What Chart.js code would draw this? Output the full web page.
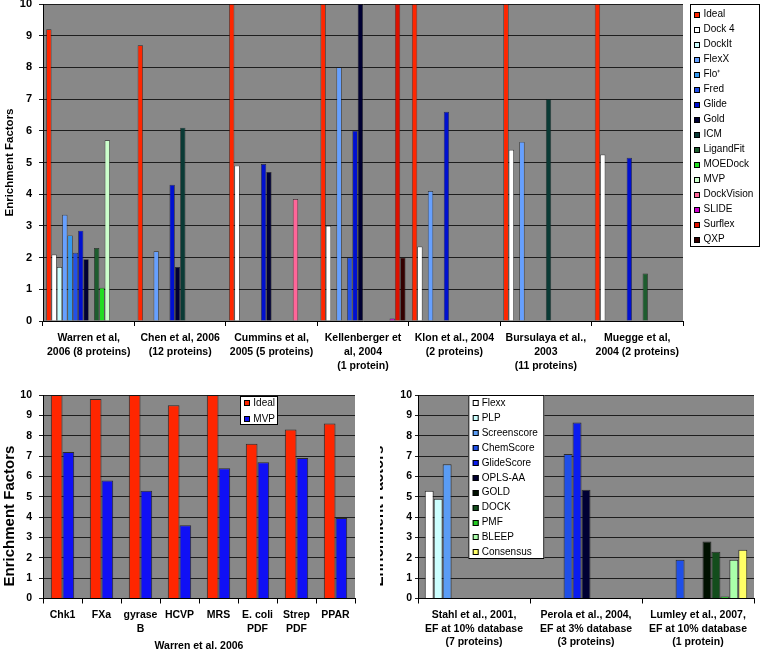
<!DOCTYPE html>
<html>
<head>
<meta charset="utf-8">
<script src="https://cdn.jsdelivr.net/npm/chart.js@4.4.0/dist/chart.umd.min.js"></script>
<style>
  body { margin: 0; background: #fff; width: 761px; height: 651px; position: relative; overflow: hidden; }
  canvas { position: absolute; }
</style>
</head>
<body>
<canvas id="overview" width="761" height="372" style="left:0;top:0"></canvas>
<canvas id="warren" width="370" height="279" style="left:0;top:372px"></canvas>
<canvas id="scoring" width="381" height="279" style="left:380px;top:372px"></canvas>
<script>
// ---- top chart: enrichment factors per study ----
const studies = [
  ['Warren et al,', '2006 (8 proteins)'],
  ['Chen et al, 2006', '(12 proteins)'],
  ['Cummins et al,', '2005 (5 proteins)'],
  ['Kellenberger et', 'al, 2004', '(1 protein)'],
  ['Klon et al., 2004', '(2 proteins)'],
  ['Bursulaya et al.,', '2003', '(11 proteins)'],
  ['Muegge et al,', '2004 (2 proteins)']
]
const programs = ['Ideal', 'Dock 4', 'DockIt', 'FlexX', 'Flo⁺', 'Fred', 'Glide', 'Gold', 'ICM',
  'LigandFit', 'MOEDock', 'MVP', 'DockVision', 'SLIDE', 'Surflex', 'QXP']
const efIdeal      = [9.2, 8.7, 10, 10, 10, 10, 10]
const efDock4      = [2.1, null, 4.9, 3.0, 2.35, 5.4, 5.25]
const efDockIt     = [1.7, null, null, null, null, null, null]
const efFlexX      = [3.35, 2.2, null, 8.0, 4.1, 5.65, null]
const efFlo        = [2.7, null, null, null, null, null, null]
const efFred       = [2.15, null, null, 2.0, null, null, null]
const efGlide      = [2.85, 4.3, 4.95, 6.0, 6.6, null, 5.15]
const efGold       = [1.95, 1.7, 4.7, 10, null, null, null]
const efICM        = [null, 6.1, null, null, null, 7.0, null]
const efLigandFit  = [2.3, null, null, null, null, null, 1.5]
const efMOEDock    = [1.05, null, null, null, null, null, null]
const efMVP        = [5.7, null, null, null, null, null, null]
const efDockVision = [null, null, 3.85, null, null, null, null]
const efSLIDE      = [null, null, null, 0.08, null, null, null]
const efSurflex    = [null, null, null, 10, null, null, null]
const efQXP        = [null, null, null, 2.0, null, null, null]

// ---- bottom left: Warren et al. 2006 per target ----
const targets = ['Chk1', 'FXa', ['gyrase', 'B'], 'HCVP', 'MRS', ['E. coli', 'PDF'], ['Strep', 'PDF'], 'PPAR']
const warrenIdeal = [10, 9.8, 10, 9.5, 10, 7.6, 8.3, 8.6]
const warrenMVP   = [7.2, 5.8, 5.3, 3.6, 6.4, 6.7, 6.9, 3.95]

// ---- bottom right: scoring functions ----
const benchmarks = [
  ['Stahl et al., 2001,', 'EF at 10% database', '(7 proteins)'],
  ['Perola et al., 2004,', 'EF at 3% database', '(3 proteins)'],
  ['Lumley et al., 2007,', 'EF at 10% database', '(1 protein)']
]
const scoreFns = ['Flexx', 'PLP', 'Screenscore', 'ChemScore', 'GlideScore', 'OPLS-AA', 'GOLD', 'DOCK', 'PMF', 'BLEEP', 'Consensus']
const sfFlexx       = [5.3, null, null]
const sfPLP         = [4.9, null, null]
const sfScreenscore = [6.6, null, null]
const sfChemScore   = [null, 7.1, 1.9]
const sfGlideScore  = [null, 8.65, null]
const sfOPLS        = [null, 5.35, null]
const sfGOLD        = [null, null, 2.8]
const sfDOCK        = [null, null, 2.3]
const sfPMF         = [null, null, 0.1]
const sfBLEEP       = [null, null, 1.9]
const sfConsensus   = [null, null, 2.4]

const FONT = '"Liberation Sans", Arial, sans-serif'
const PLOT_GREY = '#888888'

// plot area fill
const plotFill = {
  id: 'plotFill',
  beforeDraw(chart) {
    const { ctx, chartArea: a } = chart
    ctx.save()
    ctx.fillStyle = PLOT_GREY
    ctx.fillRect(a.left, a.top, a.right - a.left, a.bottom - a.top)
    ctx.restore()
  }
}

// boxed legend, Excel style
const boxLegend = {
  id: 'boxLegend',
  afterDraw(chart, args, o) {
    if (!o.w) return
    const ctx = chart.ctx
    ctx.save()
    ctx.fillStyle = '#fff'
    ctx.fillRect(o.x, o.y, o.w, o.h)
    ctx.strokeStyle = '#000'
    ctx.lineWidth = 1
    ctx.strokeRect(o.x + 0.5, o.y + 0.5, o.w - 1, o.h - 1)
    ctx.font = '10px ' + FONT
    ctx.textBaseline = 'middle'
    ctx.textAlign = 'left'
    chart.data.datasets.forEach((ds, i) => {
      const cy = o.y + o.first + i * o.step
      const top = Math.round(cy - 3)
      ctx.fillStyle = ds.backgroundColor
      ctx.fillRect(o.x + o.mx, top, 6, 6)
      ctx.strokeStyle = '#000'
      ctx.strokeRect(o.x + o.mx + 0.5, top + 0.5, 5, 5)
      ctx.fillStyle = '#000'
      ctx.fillText(ds.label, o.x + o.tx, cy)
    })
    ctx.restore()
  }
}

// rotated y title placed freely (bottom charts)
const sideTitle = {
  id: 'sideTitle',
  afterDraw(chart, args, o) {
    if (!o.text) return
    const ctx = chart.ctx
    ctx.save()
    ctx.translate(o.x, o.y)
    ctx.rotate(-Math.PI / 2)
    ctx.font = 'bold ' + o.size + 'px ' + FONT
    ctx.fillStyle = '#000'
    ctx.textAlign = 'center'
    ctx.textBaseline = 'middle'
    ctx.fillText(o.text, 0, 0)
    ctx.restore()
  }
}

function yAxis(width, size, tickLen, pad, title) {
  return {
    min: 0,
    max: 10,
    ticks: { stepSize: 1, color: '#000', padding: pad, font: { family: FONT, size, weight: 'bold' } },
    grid: { color: '#1e1e1e', lineWidth: 1, tickLength: tickLen },
    border: { color: '#000', width: 1 },
    title: title || { display: false },
    afterFit(s) { s.width = width; s.paddingTop = 0; s.paddingBottom = 0 }
  }
}

function xAxis(height, size, lineH, title) {
  return {
    ticks: {
      color: '#000', padding: 5, maxRotation: 0, minRotation: 0, autoSkip: false,
      font: { family: FONT, size, weight: 'bold', lineHeight: lineH }
    },
    grid: { drawOnChartArea: false, color: '#000', tickLength: 5 },
    border: { color: '#000', width: 1 },
    title: title || { display: false },
    afterFit(s) { s.height = height; s.paddingLeft = 0; s.paddingRight = 0 }
  }
}

function bars(names, series, colors, edge) {
  return names.map((label, i) => ({
    label,
    data: series[i],
    backgroundColor: colors[i],
    borderColor: 'rgba(20,20,20,0.8)',
    borderWidth: edge
  }))
}

Chart.register(plotFill, boxLegend, sideTitle)

// top chart
new Chart(document.getElementById('overview'), {
  type: 'bar',
  data: {
    labels: studies,
    datasets: bars(programs,
      [efIdeal, efDock4, efDockIt, efFlexX, efFlo, efFred, efGlide, efGold, efICM,
        efLigandFit, efMOEDock, efMVP, efDockVision, efSLIDE, efSurflex, efQXP],
      ['#FF2600', '#FFFFFF', '#CCFFFF', '#66A0FF', '#3399F0', '#2350E6', '#0010D0', '#000033', '#0A3A35',
        '#1D5C2E', '#22DD22', '#CCFFCC', '#FF6699', '#CC00CC', '#DD1100', '#330000'], 0.7)
  },
  options: {
    responsive: false,
    animation: false,
    categoryPercentage: 0.93,
    barPercentage: 1,
    layout: { padding: { left: 0, top: 4, right: 78, bottom: 0 } },
    plugins: {
      legend: { display: false },
      tooltip: { enabled: false },
      boxLegend: { x: 690, y: 4, w: 70, h: 243, first: 10.5, step: 15, mx: 4, tx: 13.5 }
    },
    scales: {
      x: xAxis(51, 10.5, '14px'),
      y: yAxis(43, 11, 4, 7, {
        display: true, text: 'Enrichment Factors', color: '#000',
        font: { family: FONT, size: 11.5, weight: 'bold', lineHeight: 1.2 },
        padding: { top: 3, bottom: 0 }
      })
    }
  }
})

// bottom left
new Chart(document.getElementById('warren'), {
  type: 'bar',
  data: {
    labels: targets,
    datasets: bars(['Ideal', 'MVP'], [warrenIdeal, warrenMVP], ['#FF2600', '#1010F5'], 1)
  },
  options: {
    responsive: false,
    animation: false,
    categoryPercentage: 0.6,
    barPercentage: 1,
    layout: { padding: { left: 0, top: 23, right: 15, bottom: 0 } },
    plugins: {
      legend: { display: false },
      tooltip: { enabled: false },
      boxLegend: { x: 240, y: 24, w: 38, h: 29, first: 7.3, step: 15.7, mx: 4, tx: 13.3 },
      sideTitle: { text: 'Enrichment Factors', x: 9.5, y: 144, size: 15 }
    },
    scales: {
      x: xAxis(52.5, 10.5, '13.5px', {
        display: true, text: 'Warren et al. 2006', color: '#000',
        font: { family: FONT, size: 10.5, weight: 'bold', lineHeight: '10px' },
        padding: { top: 0, bottom: 0 }
      }),
      y: yAxis(43, 10.5, 4, 7)
    }
  }
})

// bottom right
new Chart(document.getElementById('scoring'), {
  type: 'bar',
  data: {
    labels: benchmarks,
    datasets: bars(scoreFns,
      [sfFlexx, sfPLP, sfScreenscore, sfChemScore, sfGlideScore, sfOPLS, sfGOLD, sfDOCK, sfPMF, sfBLEEP, sfConsensus],
      ['#FFFFFF', '#CCFFFF', '#5A9CF5', '#1F4FE8', '#0A1CF0', '#000033', '#001100', '#134D1C', '#22CC22', '#AAFFAA', '#FFFF66'], 1)
  },
  options: {
    responsive: false,
    animation: false,
    categoryPercentage: 0.88,
    barPercentage: 1,
    layout: { padding: { left: 0, top: 23, right: 7, bottom: 0 } },
    plugins: {
      legend: { display: false },
      tooltip: { enabled: false },
      boxLegend: { x: 88.3, y: 23, w: 76, h: 164, first: 8.3, step: 14.9, mx: 4.4, tx: 13.4 },
      sideTitle: { text: 'Enrichment Factors', x: -0.8, y: 144, size: 15 }
    },
    scales: {
      x: xAxis(52.5, 10.5, '13.5px'),
      y: yAxis(38, 10.5, 3, 3)
    }
  }
})
</script>
</body>
</html>
